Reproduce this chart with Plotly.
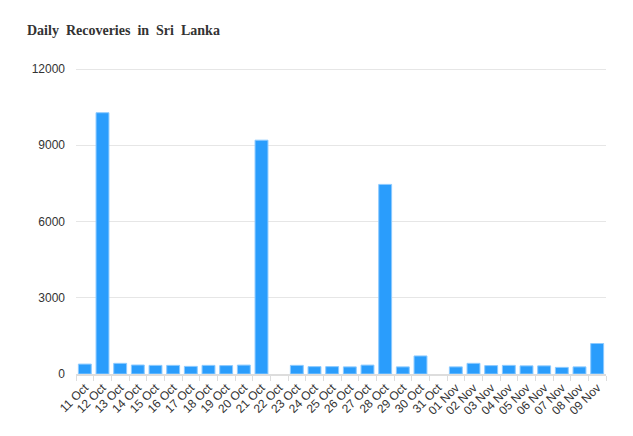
import plotly.graph_objects as go

dates = ["11 Oct", "12 Oct", "13 Oct", "14 Oct", "15 Oct", "16 Oct", "17 Oct", "18 Oct",
         "19 Oct", "20 Oct", "21 Oct", "22 Oct", "23 Oct", "24 Oct", "25 Oct", "26 Oct",
         "27 Oct", "28 Oct", "29 Oct", "30 Oct", "31 Oct", "01 Nov", "02 Nov", "03 Nov",
         "04 Nov", "05 Nov", "06 Nov", "07 Nov", "08 Nov", "09 Nov"]
recoveries = [390, 10280, 420, 354, 340, 340, 300, 340, 330, 350, 9200, 0, 340, 290,
              290, 280, 350, 7460, 280, 710, 0, 280, 420, 330, 340, 320, 320, 260, 280, 1200]
y_ticks = [0, 3000, 6000, 9000, 12000]

fig = go.Figure(go.Bar(
    x=dates, y=recoveries,
    marker=dict(color="#2a9dfc",
                line=dict(color="#8ccaff", width=[1 if v > 0 else 0 for v in recoveries])),
))

fig.update_layout(
    width=633, height=436,
    margin=dict(l=76, r=27, t=68, b=62),
    paper_bgcolor="white", plot_bgcolor="white",
    bargap=0.27,
    showlegend=False,
    title=dict(text="Daily  Recoveries  in  Sri  Lanka", x=27 / 633, xref="container",
               xanchor="left", y=1 - 30 / 436, yanchor="middle",
               font=dict(family="Liberation Serif", size=14, color="#333333", weight="bold")),
    font=dict(family="Liberation Sans, Arial", size=12, color="#333333"),
)

fig.update_xaxes(
    type="category", tickangle=-45, tickson="boundaries", ticks="outside", ticklen=5,
    tickcolor="#dddddd", showline=True, linecolor="#dddddd", linewidth=2,
    showgrid=False, tickfont=dict(size=12, color="#333333"),
)
fig.update_yaxes(
    range=[0, 12040], tickvals=y_ticks, ticktext=[str(v) for v in y_ticks],
    showgrid=True, gridcolor="#e6e6e6", gridwidth=1, zeroline=False,
    showline=False, ticks="", ticklabelstandoff=10,
    tickfont=dict(size=12, color="#333333"),
)

fig.write_html("out.html")
